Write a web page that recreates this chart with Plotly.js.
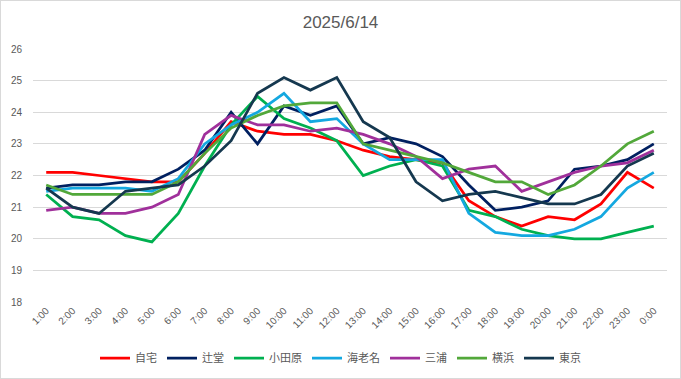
<!DOCTYPE html>
<html>
<head>
<meta charset="utf-8">
<script src="https://cdn.plot.ly/plotly-3.0.1.min.js"></script>
<style>
html,body{margin:0;padding:0;background:#fff;}
#chart{width:681px;height:379px;box-sizing:border-box;border:1px solid #d9d9d9;}
</style>
</head>
<body>
<div id="chart"></div>
<script>
const hours = ["1:00","2:00","3:00","4:00","5:00","6:00","7:00","8:00","9:00","10:00","11:00","12:00",
  "13:00","14:00","15:00","16:00","17:00","18:00","19:00","20:00","21:00","22:00","23:00","0:00"];
const seriesNames = ["自宅","辻堂","小田原","海老名","三浦","横浜","東京"];
const jitaku  = [22.1,22.1,22.0,21.9,21.8,21.8,22.7,23.7,23.4,23.3,23.3,23.1,22.8,22.6,22.5,22.4,21.2,20.7,20.4,20.7,20.6,21.1,22.1,21.6];
const tsujido = [21.6,21.7,21.7,21.8,21.8,22.2,22.8,24.0,23.0,24.2,23.9,24.2,23.0,23.2,23.0,22.6,21.7,20.9,21.0,21.2,22.2,22.3,22.5,23.0];
const odawara = [21.4,20.7,20.6,20.1,19.9,20.8,22.3,23.6,24.5,23.8,23.5,23.1,22.0,22.3,22.5,22.3,20.9,20.7,20.3,20.1,20.0,20.0,20.2,20.4];
const ebina   = [21.5,21.6,21.6,21.6,21.5,21.9,23.0,23.6,24.0,24.6,23.7,23.8,23.0,22.5,22.5,22.5,20.8,20.2,20.1,20.1,20.3,20.7,21.6,22.1];
const miura   = [20.9,21.0,20.8,20.8,21.0,21.4,23.3,23.9,23.6,23.6,23.4,23.5,23.3,23.0,22.6,21.9,22.2,22.3,21.5,21.8,22.1,22.3,22.4,22.8];
const yokohama= [21.7,21.4,21.4,21.4,21.4,21.8,22.7,23.5,23.9,24.2,24.3,24.3,23.0,22.8,22.6,22.4,22.1,21.8,21.8,21.4,21.7,22.3,23.0,23.4];
const tokyo   = [21.6,21.0,20.8,21.5,21.6,21.7,22.3,23.1,24.6,25.1,24.7,25.1,23.7,23.2,21.8,21.2,21.4,21.5,21.3,21.1,21.1,21.4,22.3,22.7];
const yTicks = [18,19,20,21,22,23,24,25,26];

const allValues = [jitaku,tsujido,odawara,ebina,miura,yokohama,tokyo];
const colors = ["#ff0000","#002060","#00b050","#14a8e0","#a0309b","#52a83a","#15384f"];

const traces = allValues.map((vals,i)=>({
  type:'scatter', mode:'lines', name:seriesNames[i],
  x:hours, y:vals,
  line:{color:colors[i], width:2.75},
  hoverinfo:'skip'
}));

const font = "'Liberation Sans', 'Noto Sans CJK JP', Arial, sans-serif";
const layout = {
  width:679, height:377,
  margin:{l:32,r:13,t:48,b:76},
  paper_bgcolor:'#ffffff', plot_bgcolor:'#ffffff',
  font:{family:font, color:'#595959', size:11},
  title:{text:'2025/6/14', x:0.5, xref:'container', y:0.945, yref:'container', yanchor:'middle',
    font:{family:font, size:17, color:'#595959'}},
  xaxis:{type:'category', categoryarray:hours, range:[-0.5,23.5], tickangle:-45,
    showgrid:false, zeroline:false, showline:false, ticks:'', tickfont:{size:10, color:'#595959'}},
  yaxis:{range:[18,26], tickvals:yTicks, ticktext:yTicks.map(String), showgrid:true, gridcolor:'#d9d9d9',
    gridwidth:1, zeroline:false, showline:false, ticks:'', ticklabelstandoff:10, tickfont:{size:10, color:'#595959'}},
  showlegend:true,
  legend:{orientation:'h', x:0.5, xanchor:'center', xref:'container', y:0.053, yanchor:'middle', yref:'container',
    font:{family:"'Noto Sans CJK JP', sans-serif", size:11, color:'#595959'}, itemwidth:30, tracegroupgap:0}
};
Plotly.newPlot('chart', traces, layout, {staticPlot:true, displayModeBar:false});
</script>
</body>
</html>
